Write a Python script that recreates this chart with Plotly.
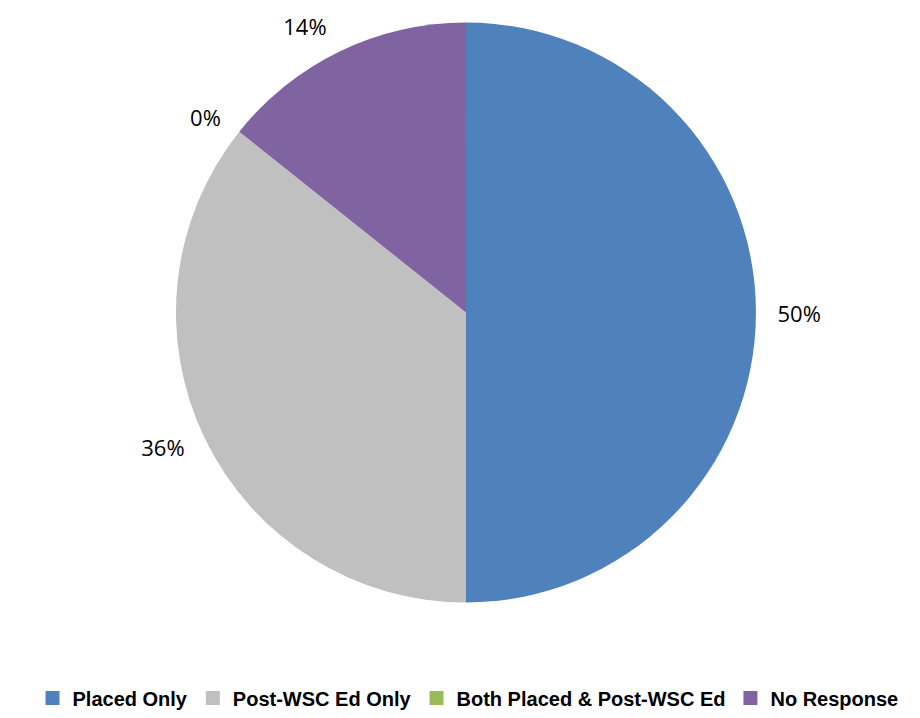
import plotly.graph_objects as go

categories = ["Placed Only", "Post-WSC Ed Only", "Both Placed & Post-WSC Ed", "No Response"]
counts = [7, 5, 0, 2]
colors = ["#4F81BD", "#C0C0C0", "#9BBB59", "#8064A2"]

# main pie (no text)
fig = go.Figure(go.Pie(
    labels=categories,
    values=counts,
    marker=dict(colors=colors, line=dict(width=0)),
    sort=False,
    direction="clockwise",
    rotation=0,
    textinfo="none",
    showlegend=False,
    hoverinfo="label+percent",
    domain=dict(x=[0.1826, 0.8130], y=[0.1720, 0.9798]),
    automargin=False,
))

# transparent, slightly larger pie that only carries the percentage labels
fig.add_trace(go.Pie(
    labels=categories,
    values=counts,
    marker=dict(colors=["rgba(0,0,0,0)"] * len(categories), line=dict(width=0)),
    sort=False,
    direction="clockwise",
    rotation=0,
    texttemplate="%{percent:.0%}",
    textposition="outside",
    outsidetextfont=dict(family="Open Sans", size=22, color="#000000"),
    showlegend=False,
    hoverinfo="skip",
    domain=dict(x=[0.1674, 0.8283], y=[0.1525, 0.9993]),
    automargin=False,
))

# legend entries with larger square swatches
for name, col in zip(categories, colors):
    fig.add_trace(go.Scatter(
        x=[None], y=[None], mode="markers", name=name,
        marker=dict(symbol="square", size=14, color=col),
        showlegend=True, hoverinfo="skip",
    ))

fig.update_layout(
    width=920, height=718,
    margin=dict(l=0, r=0, t=0, b=0),
    paper_bgcolor="white",
    plot_bgcolor="white",
    xaxis=dict(visible=False),
    yaxis=dict(visible=False),
    legend=dict(
        orientation="h",
        x=0.5, xanchor="center",
        y=0.012, yanchor="bottom",
        font=dict(family="Liberation Sans Narrow, Arial Narrow, Arial", size=20,
                  color="#000000", weight="bold"),
        itemwidth=30,
        traceorder="normal",
    ),
)

fig.write_html("out.html")
